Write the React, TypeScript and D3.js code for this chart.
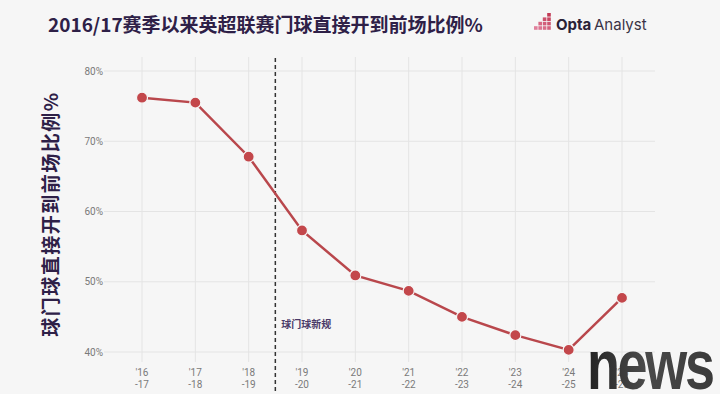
import * as d3 from 'd3';

const seasons = ["'16", "'17", "'18", "'19", "'20", "'21", "'22", "'23", "'24", "'25"];
const seasonEnds = ['-17', '-18', '-19', '-20', '-21', '-22', '-23', '-24', '-25', '-26'];
const share = [76.2, 75.5, 67.8, 57.3, 50.9, 48.7, 45.0, 42.4, 40.3, 47.7];
const yTicks = [40, 50, 60, 70, 80];
const ruleChangeAt = 2.5; // between '18-19 and '19-20

const W = 720;
const H = 394;
const purple = '#2e2047';
const red = '#c3474b';

export default function App() {
  const x = d3.scaleLinear().domain([0, seasons.length - 1]).range([142, 622]);
  const y = d3.scaleLinear().domain([40, 80]).range([352, 71]);

  const line = d3.line<number>()
    .x((d, i) => x(i))
    .y(d => y(d));

  // little stepped squares of the logo
  const logoSquares = [
    [3, 0], [3, 1], [2, 1], [3, 2], [2, 2], [1, 2], [3, 3], [2, 3], [1, 3], [0, 3],
  ];

  return (
    <svg width={W} height={H} style={{ display: 'block', position: 'absolute', left: 0, top: 0 }}
      fontFamily="Roboto, 'Noto Sans CJK SC', sans-serif">
      <defs>
        <linearGradient id="newsGrad" x1="0" x2="1" y1="0" y2="0">
          <stop offset="0%" stopColor="#222" />
          <stop offset="45%" stopColor="#4a4a4a" />
          <stop offset="100%" stopColor="#3a3a3a" />
        </linearGradient>
      </defs>
      <rect width={W} height={H} fill="#f6f6f6" />

      <text x={48} y={32} fontSize={19} fontWeight={700} fill={purple}
        fontFamily="'Noto Sans CJK SC', sans-serif">2016/17赛季以来英超联赛门球直接开到前场比例%</text>

      <g transform="translate(534, 13)">
        {logoSquares.map(([c, r], i) => (
          <rect key={i} x={c * 4.4} y={r * 4.4} width={3.6} height={3.6}
            fill={d3.interpolateRgb('#c23a55', '#e58aa6')(r / 3 * 0.5 + (3 - c) * 0.12)} />
        ))}
        <text x={22} y={17} fontSize={15} fontWeight={700} fill="#2a2236" fontFamily="Inter, sans-serif">Opta</text>
        <text x={60} y={17} fontSize={15} fontWeight={400} fill="#3a3346" fontFamily="Inter, sans-serif">Analyst</text>
      </g>

      <g>
        {yTicks.map(t => (
          <g key={t}>
            <line x1={104} x2={655} y1={y(t)} y2={y(t)} stroke="#e4e4e4" strokeWidth={1} />
            <text x={103} y={y(t) + 3.5} fontSize={10} fill="#7a7a7a" textAnchor="end">{t}%</text>
          </g>
        ))}
        {seasons.map((s, i) => (
          <g key={s}>
            <line x1={x(i)} x2={x(i)} y1={57} y2={362} stroke="#e4e4e4" strokeWidth={1} />
            <text x={x(i)} y={376} fontSize={10} fill="#7a7a7a" textAnchor="middle">{s}</text>
            <text x={x(i)} y={388} fontSize={10} fill="#7a7a7a" textAnchor="middle">{seasonEnds[i]}</text>
          </g>
        ))}
      </g>

      <line x1={x(ruleChangeAt)} x2={x(ruleChangeAt)} y1={58} y2={H} stroke="#333" strokeWidth={1.5}
        strokeDasharray="4,3" />
      <text x={x(ruleChangeAt) + 6} y={328} fontSize={10} fontWeight={700} fill="#4a3a68"
        fontFamily="'Noto Sans CJK SC', sans-serif">球门球新规</text>

      <text transform={`translate(58, 214) rotate(-90)`} textAnchor="middle" fontSize={19} fontWeight={700}
        letterSpacing={1.5} fill={purple} fontFamily="'Noto Sans CJK SC', sans-serif">球门球直接开到前场比例%</text>

      <path d={line(share) ?? ''} fill="none" stroke="#b9474c" strokeWidth={2.5} />
      {share.map((v, i) => (
        <circle key={i} cx={x(i)} cy={y(v)} r={5.5} fill={red} stroke="#f6f6f6" strokeWidth={1.2} />
      ))}

      <text fontSize={70} fontWeight={900} fill="url(#newsGrad)" letterSpacing={-3}
        fontFamily="'Liberation Sans', Arial, sans-serif" transform="translate(587,389) scale(0.77,1)">news</text>
    </svg>
  );
}
